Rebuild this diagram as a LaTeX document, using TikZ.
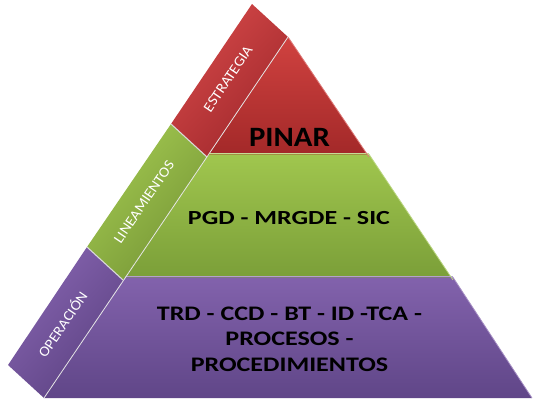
\documentclass[tikz,border=0pt]{standalone}
\usepackage{fontspec}
\setmainfont{Carlito}
\definecolor{redL}{RGB}{208,66,64}
\definecolor{redD}{RGB}{162,40,40}
\definecolor{grnL}{RGB}{160,198,78}
\definecolor{grnD}{RGB}{122,158,56}
\definecolor{purL}{RGB}{130,98,172}
\definecolor{purD}{RGB}{96,70,136}
\definecolor{redB}{RGB}{212,72,72}
\definecolor{redBD}{RGB}{160,40,44}
\definecolor{grnB}{RGB}{162,200,80}
\definecolor{grnBD}{RGB}{118,150,54}
\definecolor{purB}{RGB}{134,100,176}
\definecolor{purBD}{RGB}{92,66,130}
\tikzset{
  bandlabel/.style={rotate=56, xscale=1.08, text=white, font=\fontsize{10.8}{12}\selectfont},
  maintext/.style={text=black, align=center},
  sep/.style={draw=white!85!black, line width=0.8pt},
}
\begin{document}
\begin{tikzpicture}[x=0.75pt,y=-0.75pt]
\useasboundingbox (0,0) rectangle (537,405);
% inner edge points (left side of main pyramid)
\coordinate (A) at (288,37);
\coordinate (B) at (207,157);
\coordinate (C) at (123,280);
\coordinate (D) at (44,398);
% right side
\coordinate (Br) at (369,157);
\coordinate (Cr) at (453,280);
\coordinate (Dr) at (532,398);
% outer band edge
\coordinate (Ao) at (252,4);
\coordinate (Bo) at (171,124);
\coordinate (Co) at (87,247);
\coordinate (Do) at (8,365);
% main segments
\shade[top color=redL, bottom color=redD] (A) -- (Br) -- (B) -- cycle;
\shade[top color=grnL, bottom color=grnD] ([yshift=2]B) -- ([yshift=2]Br) -- (Cr) -- (C) -- cycle;
\shade[top color=purL, bottom color=purD] ([yshift=2]C) -- ([yshift=2]Cr) -- (Dr) -- (D) -- cycle;
% highlights on top edges
\draw[grnL!60!white, line width=1.2pt] ([yshift=2.6]B) -- ([yshift=2.6]Br);
\draw[purL!60!white, line width=1.2pt] ([yshift=2.6]C) -- ([yshift=2.6]Cr);
\draw[redL!70!white, line width=0.6pt] (A) -- (Br);
\draw[grnL!70!white, line width=0.6pt] ([yshift=2]Br) -- (Cr);
\draw[purL!70!white, line width=0.6pt] ([yshift=2]Cr) -- (Dr);
% band segments
\shade[top color=redB, bottom color=redBD, shading angle=47] (Ao) -- (A) -- (B) -- (Bo) -- cycle;
\shade[top color=grnB, bottom color=grnBD, shading angle=47] (Bo) -- (B) -- (C) -- (Co) -- cycle;
\shade[top color=purB, bottom color=purBD, shading angle=47] (Co) -- (C) -- (D) -- (Do) -- cycle;
\draw[sep] (Bo) -- (B);
\draw[sep] (Co) -- (C);
\draw[white!80!gray, line width=0.6pt] (A) -- (D);
% labels
\node[bandlabel] (l1) at (228,79) {ESTRATEGIA};
\node[bandlabel] (l2) at (144,202) {LINEAMIENTOS};
\node[bandlabel] (l3) at (62,324) {OPERACIÓN};
\node[maintext, xscale=1.1, font=\bfseries\fontsize{21}{25}\selectfont] (t1) at (289.5,137.5) {PINAR};
\node[maintext, xscale=1.3, font=\bfseries\fontsize{15}{19}\selectfont] (t2) at (289,218) {PGD - MRGDE - SIC};
\node[maintext, xscale=1.26, font=\bfseries\fontsize{15.5}{19}\selectfont] (t3) at (289.5,339) {TRD - CCD - BT - ID -TCA -\\PROCESOS -\\PROCEDIMIENTOS};
\end{tikzpicture}
\end{document}
